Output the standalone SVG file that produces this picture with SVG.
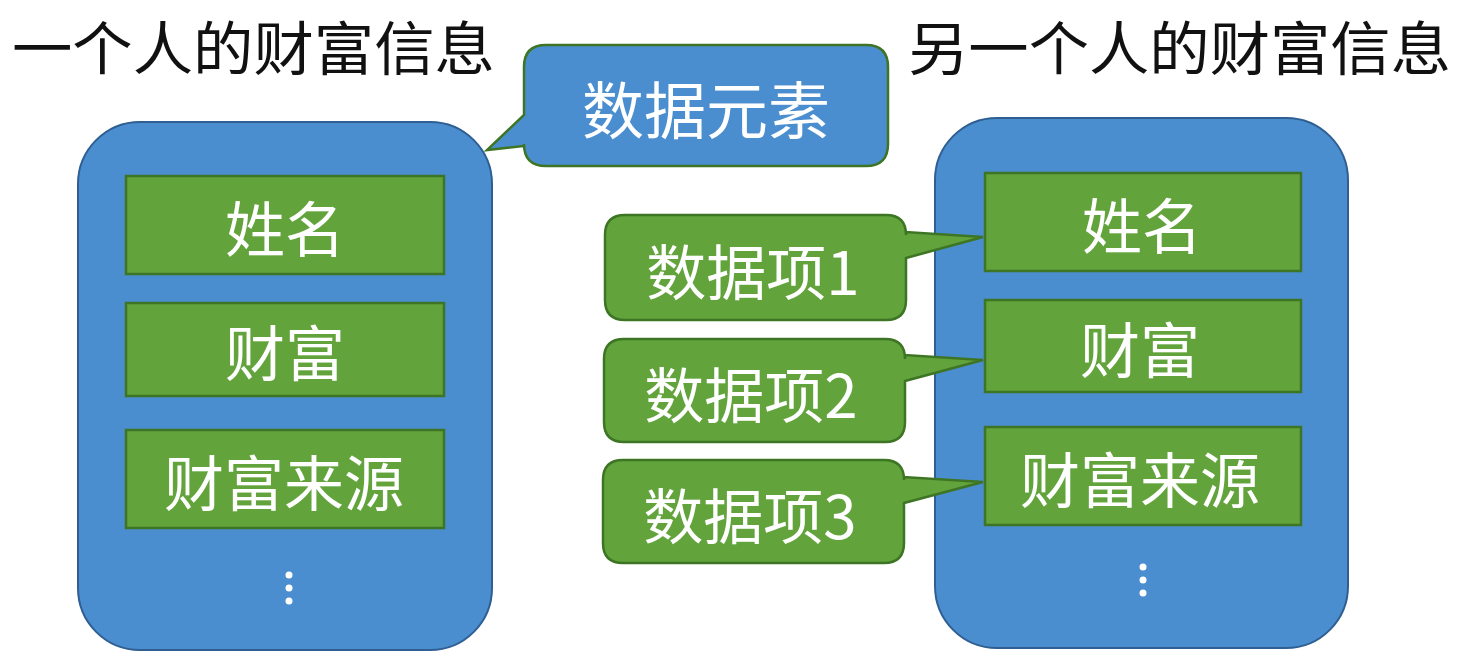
<svg xmlns="http://www.w3.org/2000/svg" width="1460" height="663" viewBox="0 0 1460 663">
<style>
.title{font-family:"Noto Sans CJK SC","Noto Sans CJK JP",sans-serif;font-size:58px;fill:#111;}
.big{fill:#4a8ed0;stroke:#2f5f92;stroke-width:2;}
.item{fill:#62a33c;stroke:#3d7524;stroke-width:2.5;}
.cb{fill:#4a8ed0;stroke:#3d7524;stroke-width:2.5;}
.cg{fill:#62a33c;stroke:#3d7524;stroke-width:2.5;}
.lbl{font-family:"Noto Sans CJK SC","Noto Sans CJK JP",sans-serif;font-size:60px;fill:#fff;text-anchor:middle;dominant-baseline:central;}
.dot{fill:#fff;}
</style>
<rect width="1460" height="663" fill="#fff"/>
<text class="title" x="12" y="70" textLength="483" lengthAdjust="spacingAndGlyphs">一个人的财富信息</text>
<text class="title" x="908" y="70" textLength="543" lengthAdjust="spacingAndGlyphs">另一个人的财富信息</text>

<g id="left-record">
<rect class="big" x="78" y="122" width="414" height="528" rx="62"/>
<g id="left-name"><rect class="item" x="126" y="176" width="318" height="98"/><text class="lbl" x="285" y="225">姓名</text></g>
<g id="left-wealth"><rect class="item" x="126" y="303" width="318" height="93"/><text class="lbl" x="285" y="349">财富</text></g>
<g id="left-source"><rect class="item" x="126" y="430" width="318" height="98"/><text class="lbl" x="284" y="479">财富来源</text></g>
<circle class="dot" cx="289" cy="575" r="3.5"/><circle class="dot" cx="289" cy="588" r="3.5"/><circle class="dot" cx="289" cy="601" r="3.5"/>
</g>

<g id="right-record">
<rect class="big" x="935" y="118" width="413" height="530" rx="62"/>
<g id="right-name"><rect class="item" x="985" y="173" width="316" height="98"/><text class="lbl" x="1142" y="222">姓名</text></g>
<g id="right-wealth"><rect class="item" x="985" y="300" width="316" height="92"/><text class="lbl" x="1140" y="346">财富</text></g>
<g id="right-source"><rect class="item" x="985" y="427" width="316" height="98"/><text class="lbl" x="1140" y="476">财富来源</text></g>
<circle class="dot" cx="1143" cy="567" r="3.5"/><circle class="dot" cx="1143" cy="580" r="3.5"/><circle class="dot" cx="1143" cy="593" r="3.5"/>
</g>

<g id="connectors">
<g id="callout-element">
<path class="cb" d="M546,45 H866 Q888,45 888,67 V144 Q888,166 866,166 H546 Q524,166 524,144 V146 L487,150 L524,115 V67 Q524,45 546,45 Z"/>
<text class="lbl" x="706" y="107" style="font-size:62px">数据元素</text>
</g>
<g id="callout-item1">
<path class="cg" d="M625,215 H886 Q906,215 906,235 V232 L983,237 L906,258 V300 Q906,320 886,320 H625 Q605,320 605,300 V235 Q605,215 625,215 Z"/>
<text class="lbl" x="753" y="268">数据项1</text>
</g>
<g id="callout-item2">
<path class="cg" d="M624,339 H885 Q905,339 905,359 V355 L983,360 L905,381 V422 Q905,442 885,442 H624 Q604,442 604,422 V359 Q604,339 624,339 Z"/>
<text class="lbl" x="751" y="391">数据项2</text>
</g>
<g id="callout-item3">
<path class="cg" d="M623,460 H884 Q904,460 904,480 V477 L983,482 L904,503 V543 Q904,563 884,563 H623 Q603,563 603,543 V480 Q603,460 623,460 Z"/>
<text class="lbl" x="750" y="512">数据项3</text>
</g>
</g>
</svg>
